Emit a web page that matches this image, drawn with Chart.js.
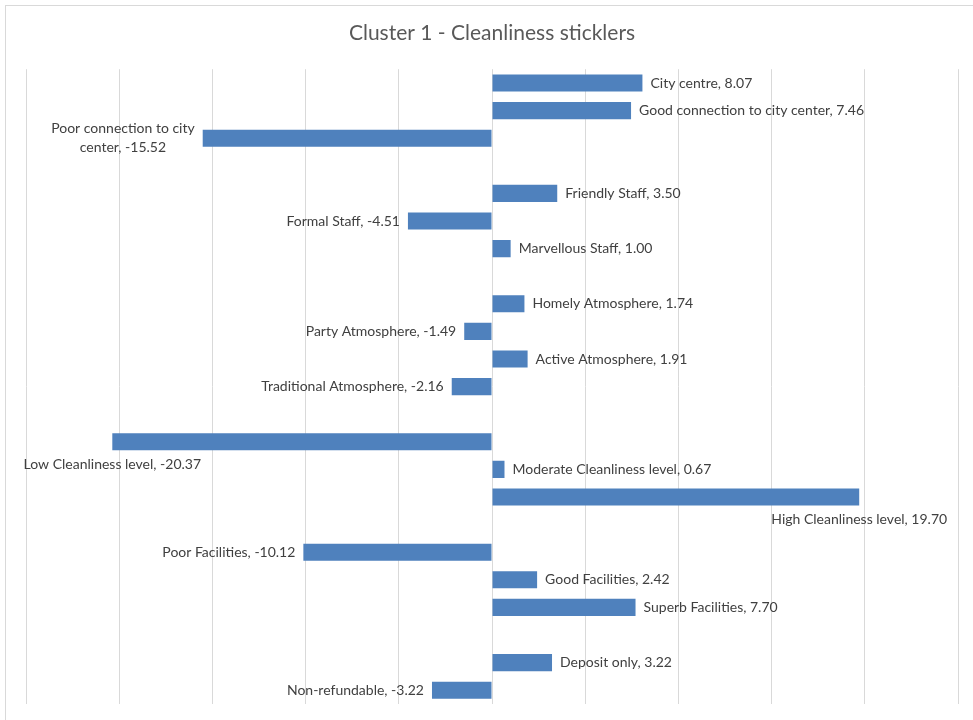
<!DOCTYPE html>
<html>
<head>
<meta charset="utf-8">
<title>Cluster 1 - Cleanliness sticklers</title>
<script src="https://cdn.jsdelivr.net/npm/chart.js@4/dist/chart.umd.min.js"></script>
<style>
    html, body { margin: 0; padding: 0; background: #fff; overflow: hidden; }
    #wrap { position: relative; width: 973px; height: 720px; }
    #frame { position: absolute; left: 5px; top: 5px; width: 1000px; height: 800px; border: 1px solid #d9d9d9; pointer-events: none; }
    #chart { position: absolute; left: 0; top: 0; }
</style>
</head>
<body>
<div id="wrap">
    <canvas id="chart" width="973" height="720"></canvas>
    <div id="frame"></div>
</div>
<script>
// categories top to bottom, '' = spacer row between groups
const categories = [
    'City centre', 'Good connection to city center', 'Poor connection to city center', '',
    'Friendly Staff', 'Formal Staff', 'Marvellous Staff', '',
    'Homely Atmosphere', 'Party Atmosphere', 'Active Atmosphere', 'Traditional Atmosphere', '',
    'Low Cleanliness level', 'Moderate Cleanliness level', 'High Cleanliness level', '',
    'Poor Facilities', 'Good Facilities', 'Superb Facilities', '',
    'Deposit only', 'Non-refundable'
];
const scores = [
    8.07, 7.46, -15.52, null,
    3.50, -4.51, 1.00, null,
    1.74, -1.49, 1.91, -2.16, null,
    -20.37, 0.67, 19.70, null,
    -10.12, 2.42, 7.70, null,
    3.22, -3.22
];
const xTicks = [-25, -20, -15, -10, -5, 0, 5, 10, 15, 20, 25];

(function () {
    "use strict";

    const labelFont = '14px Lato, "Liberation Sans", sans-serif';
    const labelColor = '#404040';
    const gap = 8;

    // greedy word wrap to a max width
    function wrap(ctx, text, maxW) {
        const words = text.split(' ');
        const lines = [];
        let cur = '';
        words.forEach(function (w) {
            const test = cur ? cur + ' ' + w : w;
            if (cur && ctx.measureText(test).width > maxW) {
                lines.push(cur);
                cur = w;
            } else {
                cur = test;
            }
        });
        if (cur) lines.push(cur);
        return lines;
    }

    // draws "Category, value" next to each bar, the way Excel places them
    const barLabels = {
        id: 'barLabels',
        afterDatasetsDraw(chart) {
            const ctx = chart.ctx;
            const area = chart.chartArea;
            const meta = chart.getDatasetMeta(0);
            ctx.save();
            ctx.font = labelFont;
            ctx.fillStyle = labelColor;
            ctx.textBaseline = 'middle';
            meta.data.forEach(function (bar, i) {
                const v = scores[i];
                if (v === null || v === undefined) return;
                const text = categories[i] + ', ' + v.toFixed(2);
                const w = ctx.measureText(text).width;
                const end = bar.x;
                const pos = v >= 0;
                const room = pos ? area.right - end - gap : end - gap - area.left;
                if (w <= room) {
                    ctx.textAlign = pos ? 'left' : 'right';
                    ctx.fillText(text, pos ? end + gap : end - gap, bar.y);
                    return;
                }
                const lines = wrap(ctx, text, room);
                const ww = Math.max.apply(null, lines.map(function (l) { return ctx.measureText(l).width; }));
                if (lines.length === 2 && ww <= room) {
                    ctx.textAlign = 'center';
                    const cx = pos ? end + gap + ww / 2 : end - gap - ww / 2;
                    ctx.fillText(lines[0], cx, bar.y - 9.5);
                    ctx.fillText(lines[1], cx, bar.y + 9.5);
                    return;
                }
                // no room beside the bar: centre it under the bar end
                ctx.textAlign = 'center';
                let cx = end;
                cx = Math.max(cx, w / 2 + 2);
                cx = Math.min(cx, chart.width - w / 2 - 2);
                ctx.fillText(text, cx, bar.y + bar.height / 2 + 14);
            });
            ctx.restore();
        }
    };

    new Chart(document.getElementById('chart'), {
        type: 'bar',
        data: {
            labels: categories,
            datasets: [{
                data: scores,
                backgroundColor: '#4f81bd',
                borderWidth: 0,
                barPercentage: 0.62,
                categoryPercentage: 1.0
            }]
        },
        options: {
            indexAxis: 'y',
            responsive: false,
            animation: false,
            layout: {
                padding: { left: 26, right: 15, top: 0, bottom: 16 }
            },
            scales: {
                x: {
                    min: xTicks[0],
                    max: xTicks[xTicks.length - 1],
                    afterBuildTicks: function (axis) {
                        axis.ticks = xTicks.map(function (v) { return { value: v }; });
                    },
                    ticks: { display: false },
                    grid: { color: '#d9d9d9', lineWidth: 1, drawTicks: false },
                    border: { display: false }
                },
                y: {
                    display: false
                }
            },
            plugins: {
                legend: { display: false },
                tooltip: { enabled: false },
                title: {
                    display: true,
                    text: 'Cluster 1 - Cleanliness sticklers',
                    color: '#595959',
                    font: { family: 'Lato, "Liberation Sans", sans-serif', size: 21, weight: 'normal' },
                    padding: { top: 21, bottom: 23 }
                }
            }
        },
        plugins: [barLabels]
    });
})();
</script>
</body>
</html>
